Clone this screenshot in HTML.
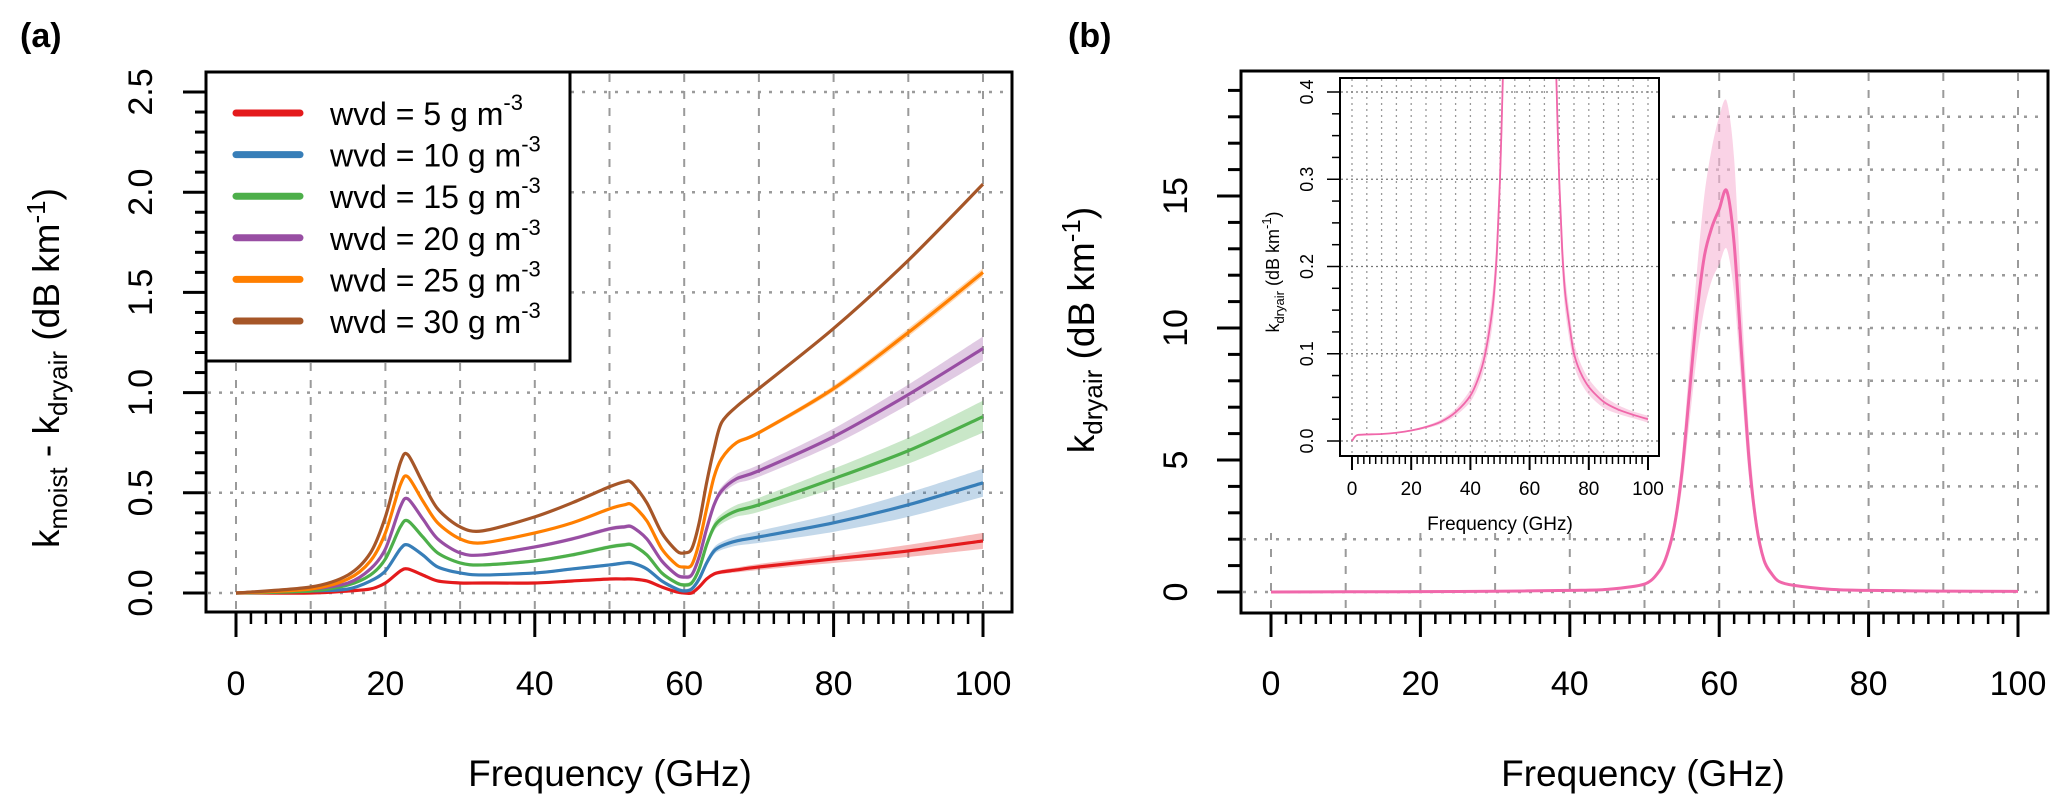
<!DOCTYPE html>
<html><head><meta charset="utf-8"><style>
html,body{margin:0;padding:0;background:#fff;}
svg{display:block;font-family:"Liberation Sans",Arial,sans-serif;}
</style></head><body>
<svg id="fig" width="2067" height="812" viewBox="0 0 2067 812" xmlns="http://www.w3.org/2000/svg">
<rect x="0" y="0" width="2067" height="812" fill="#fff"/>
<g id="pa"></g>
<g id="pb"></g>
</svg>
<script>
// ---------- Panel (a) data ----------
const freqA = [0,10,15,18,20,22,23,25,27,30,33,40,45,50,52,53,55,57,59,60,61,62,63,64,65,67,70,80,90,100];
const wvd5  = [0,0,0.01,0.02,0.05,0.11,0.12,0.09,0.06,0.05,0.05,0.05,0.06,0.07,0.07,0.07,0.06,0.03,0.005,0,0,0.03,0.07,0.095,0.105,0.115,0.13,0.17,0.21,0.26];
const wvd10 = [0,0.01,0.02,0.06,0.11,0.22,0.24,0.19,0.13,0.1,0.09,0.1,0.12,0.14,0.15,0.15,0.12,0.06,0.02,0.01,0.02,0.07,0.15,0.21,0.235,0.26,0.28,0.35,0.44,0.55];
const wvd15 = [0,0.01,0.04,0.09,0.17,0.33,0.36,0.28,0.2,0.15,0.14,0.16,0.19,0.23,0.24,0.24,0.19,0.1,0.05,0.04,0.05,0.12,0.24,0.33,0.37,0.41,0.44,0.57,0.71,0.88];
const wvd20 = [0,0.02,0.05,0.12,0.22,0.43,0.47,0.37,0.27,0.2,0.19,0.23,0.27,0.32,0.33,0.33,0.27,0.16,0.09,0.08,0.09,0.18,0.32,0.44,0.51,0.57,0.61,0.78,0.99,1.22];
const wvd25 = [0,0.02,0.07,0.16,0.3,0.54,0.58,0.46,0.35,0.27,0.25,0.3,0.35,0.42,0.44,0.44,0.36,0.22,0.14,0.13,0.14,0.25,0.42,0.58,0.67,0.75,0.8,1.02,1.3,1.6];
const wvd30 = [0,0.03,0.09,0.2,0.38,0.65,0.69,0.55,0.42,0.33,0.31,0.38,0.45,0.53,0.555,0.55,0.45,0.3,0.21,0.2,0.22,0.35,0.55,0.72,0.85,0.93,1.02,1.32,1.66,2.04];
const bandFreqA = [0,20,50,60,65,70,80,90,100];
const band5  = [0,0.003,0.005,0.005,0.01,0.015,0.02,0.03,0.04];
const band10 = [0,0.005,0.008,0.01,0.02,0.03,0.045,0.06,0.07];
const band15 = [0,0.005,0.01,0.01,0.025,0.035,0.05,0.065,0.08];
const band20 = [0,0.005,0.01,0.01,0.02,0.03,0.04,0.05,0.06];
const band25 = [0,0.003,0.005,0.005,0.01,0.01,0.015,0.02,0.02];
const band30 = [0,0.002,0.003,0.003,0.004,0.004,0.005,0.005,0.006];
const seriesLabels = ["wvd = 5 g m","wvd = 10 g m","wvd = 15 g m","wvd = 20 g m","wvd = 25 g m","wvd = 30 g m"];
const seriesColors = ["#e41a1c","#377eb8","#4daf4a","#984ea3","#ff7f00","#a65628"];
const xTicksA = [0,20,40,60,80,100];
const yTicksA = ["0.0","0.5","1.0","1.5","2.0","2.5"];

// ---------- Panel (b) data ----------
const freqB = [0,10,20,30,40,45,50,52,53,54,55,56,57,58,59,60,61,62,63,64,65,66,67,68,70,75,80,90,100];
const dryB  = [0,0.01,0.012,0.03,0.06,0.1,0.3,0.8,1.4,2.5,4.5,7.5,10.5,12.7,13.8,14.5,15.2,13.2,9,5,2.5,1.2,0.7,0.4,0.25,0.1,0.06,0.035,0.025];
const dryBlo= [0,0.01,0.011,0.027,0.053,0.088,0.27,0.7,1.2,2.2,3.9,6.4,8.9,10.7,11.8,12.4,13,11.3,7.7,4.3,2.2,1.05,0.6,0.35,0.22,0.09,0.053,0.031,0.022];
const dryBhi= [0,0.01,0.013,0.033,0.067,0.112,0.33,0.9,1.6,2.8,5.1,8.6,12.1,15,16.8,18,18.6,16.4,11,6,2.9,1.4,0.8,0.46,0.28,0.11,0.067,0.04,0.028];
const freqI = [0,1,2,5,10,15,20,25,30,35,40,43,45,47,48,49,50,51,51.5,68.5,69,70,71,72,74,75,77,80,85,90,95,100];
const dryI  = [0,0.005,0.007,0.0075,0.008,0.0095,0.012,0.016,0.022,0.033,0.052,0.075,0.1,0.14,0.17,0.22,0.3,0.42,0.5,0.5,0.42,0.3,0.22,0.17,0.12,0.1,0.08,0.062,0.045,0.036,0.03,0.025];
const dryIlo= [0,0.005,0.0065,0.007,0.0075,0.0088,0.011,0.0145,0.0195,0.029,0.045,0.065,0.087,0.122,0.15,0.195,0.27,0.38,0.46,0.46,0.38,0.27,0.195,0.15,0.105,0.087,0.069,0.053,0.038,0.031,0.026,0.021];
const dryIhi= [0,0.005,0.0075,0.008,0.0085,0.0102,0.013,0.0175,0.0245,0.037,0.059,0.085,0.113,0.158,0.19,0.245,0.33,0.46,0.54,0.54,0.46,0.33,0.245,0.19,0.135,0.113,0.091,0.071,0.052,0.041,0.034,0.029];
const xTicksB = [0,20,40,60,80,100];
const yTicksB = [0,5,10,15];
const yTicksI = ["0.0","0.1","0.2","0.3","0.4"];

const NS="http://www.w3.org/2000/svg";
function mk(parent, tag, attrs){const e=document.createElementNS(NS,tag);for(const k in attrs)e.setAttribute(k,attrs[k]);parent.appendChild(e);return e;}
function smooth(pts){
  if(pts.length<2)return "";
  let d="M"+pts[0][0].toFixed(2)+","+pts[0][1].toFixed(2);
  for(let i=0;i<pts.length-1;i++){
    const p0=pts[Math.max(0,i-1)],p1=pts[i],p2=pts[i+1],p3=pts[Math.min(pts.length-1,i+2)];
    const t=0.15;
    const c1=[p1[0]+(p2[0]-p0[0])*t,p1[1]+(p2[1]-p0[1])*t];
    const c2=[p2[0]-(p3[0]-p1[0])*t,p2[1]-(p3[1]-p1[1])*t];
    d+="C"+c1[0].toFixed(2)+","+c1[1].toFixed(2)+" "+c2[0].toFixed(2)+","+c2[1].toFixed(2)+" "+p2[0].toFixed(2)+","+p2[1].toFixed(2);
  }
  return d;
}
function interp(xs,ys,x){for(let i=0;i<xs.length-1;i++){if(x>=xs[i]&&x<=xs[i+1]){const t=(x-xs[i])/(xs[i+1]-xs[i]);return ys[i]+t*(ys[i+1]-ys[i]);}}return ys[ys.length-1];}

// ================= PANEL A =================
(function(){
const g=document.getElementById('pa');
const X=f=>236+f*(983-236)/100;
const Y=v=>593-v*200.4;
const L=206,R=1012,T=72,B=612;
// grid
for(let f=0;f<=100;f+=10){const l=mk(g,'line',{x1:X(f),x2:X(f),y1:T+2,y2:B-2,stroke:'#9a9a9a','stroke-width':2,'stroke-dasharray':'8,9'});

}
for(let i=0;i<yTicksA.length;i++){const v=parseFloat(yTicksA[i]);const l=mk(g,'line',{x1:L+2,x2:R-2,y1:Y(v),y2:Y(v),stroke:'#9a9a9a','stroke-width':2.5,'stroke-dasharray':'3,8'});

}
const all=[wvd5,wvd10,wvd15,wvd20,wvd25,wvd30];
const bands=[band5,band10,band15,band20,band25,band30];
// bands then lines
for(let s=0;s<all.length;s++){
  const up=[],lo=[];
  for(let i=0;i<freqA.length;i++){const h=interp(bandFreqA,bands[s],freqA[i]);up.push([X(freqA[i]),Y(all[s][i]+h)]);lo.push([X(freqA[i]),Y(all[s][i]-h)]);}
  const d=smooth(up)+"L"+smooth(lo.slice().reverse()).slice(1)+"Z";
  const p=mk(g,'path',{d:d,fill:seriesColors[s],'fill-opacity':0.3,stroke:'none'});
  
  
}
for(let s=0;s<all.length;s++){
  const pts=freqA.map((f,i)=>[X(f),Y(all[s][i])]);
  const p=mk(g,'path',{d:smooth(pts),fill:'none',stroke:seriesColors[s],'stroke-width':3.2,'stroke-linejoin':'round'});
  
  
}
// box
const box=mk(g,'rect',{x:L,y:T,width:R-L,height:B-T,fill:'none',stroke:'#000','stroke-width':3});


// x ticks
for(let f=0;f<=100;f+=2){const major=f%20===0;const t=mk(g,'line',{x1:X(f),x2:X(f),y1:B,y2:major?637:624,stroke:'#000','stroke-width':major?3:2.5});

}
xTicksA.forEach(f=>{const t=mk(g,'text',{x:X(f),y:695,'font-size':34,'text-anchor':'middle',fill:'#000'});t.textContent=f;

});
// y ticks
for(let k=0;k<=25;k++){const v=k/10;const major=k%5===0;const t=mk(g,'line',{x1:major?183:195,x2:L,y1:Y(v),y2:Y(v),stroke:'#000','stroke-width':3});

}
yTicksA.forEach(lbl=>{const v=parseFloat(lbl);const t=mk(g,'text',{x:0,y:0,'font-size':34,'text-anchor':'middle',fill:'#000',transform:`translate(152,${Y(v)}) rotate(-90)`});t.textContent=lbl;

});
// axis titles
const xt=mk(g,'text',{x:610,y:786,'font-size':37,'text-anchor':'middle',fill:'#000'});xt.textContent='Frequency (GHz)';


const yt=mk(g,'text',{x:0,y:0,'font-size':37,'text-anchor':'middle',fill:'#000',transform:'translate(59,368) rotate(-90)'});
yt.innerHTML='k<tspan font-size="26" dy="8">moist</tspan><tspan dy="-8"> - k</tspan><tspan font-size="26" dy="8">dryair</tspan><tspan dy="-8"> (dB  km</tspan><tspan font-size="26" dy="-14">-1</tspan><tspan dy="14">)</tspan>';


const pl=mk(g,'text',{x:20,y:47,'font-size':34,'font-weight':'bold',fill:'#000'});pl.textContent='(a)';


// legend
const lg=mk(g,'g',{});


mk(lg,'rect',{x:L,y:T,width:364,height:289,fill:'#fff',stroke:'#000','stroke-width':3});
for(let s=0;s<seriesLabels.length;s++){
  const y=113+s*41.6;
  const e=mk(lg,'g',{});
  
  
  mk(e,'line',{x1:236,x2:300,y1:y,y2:y,stroke:seriesColors[s],'stroke-width':7,'stroke-linecap':'round'});
  const t=mk(e,'text',{x:330,y:y+12,'font-size':32,fill:'#000'});
  t.innerHTML=seriesLabels[s]+'<tspan font-size="22" dy="-15">-3</tspan>';
}
})();

// ================= PANEL B =================
(function(){
const g=document.getElementById('pb');
const X=f=>1271+f*(2018-1271)/100;
const Y=v=>592-v*26.4;
const L=1241,R=2048,T=71,B=613;
for(let f=0;f<=100;f+=10){const l=mk(g,'line',{x1:X(f),x2:X(f),y1:T+2,y2:B-2,stroke:'#9a9a9a','stroke-width':2,'stroke-dasharray':'8,9'});

}
for(let v=0;v<=18;v+=2){const l=mk(g,'line',{x1:L+2,x2:R-2,y1:Y(v),y2:Y(v),stroke:'#9a9a9a','stroke-width':2.5,'stroke-dasharray':'3,8'});

}
// band + line
const up=freqB.map((f,i)=>[X(f),Y(dryBhi[i])]),lo=freqB.map((f,i)=>[X(f),Y(dryBlo[i])]);
const band=mk(g,'path',{d:smooth(up)+"L"+smooth(lo.slice().reverse()).slice(1)+"Z",fill:'#f7b6d6','fill-opacity':0.6,stroke:'none'});


const ln=mk(g,'path',{d:smooth(freqB.map((f,i)=>[X(f),Y(dryB[i])])),fill:'none',stroke:'#f067aa','stroke-width':3,'stroke-linejoin':'round'});


// inset background
const ib=mk(g,'rect',{x:L+2,y:T+2,width:1665-L-2,height:533-T-2,fill:'#fff'});


const box=mk(g,'rect',{x:L,y:T,width:R-L,height:B-T,fill:'none',stroke:'#000','stroke-width':3});


for(let f=0;f<=100;f+=2){const major=f%20===0;const t=mk(g,'line',{x1:X(f),x2:X(f),y1:B,y2:major?637:624,stroke:'#000','stroke-width':major?3:2.5});

}
xTicksB.forEach(f=>{const t=mk(g,'text',{x:X(f),y:695,'font-size':34,'text-anchor':'middle',fill:'#000'});t.textContent=f;

});
for(let v=0;v<=19;v++){const major=v%5===0;const t=mk(g,'line',{x1:major?1217:1228,x2:L,y1:Y(v),y2:Y(v),stroke:'#000','stroke-width':3});

}
yTicksB.forEach(v=>{const t=mk(g,'text',{x:0,y:0,'font-size':34,'text-anchor':'middle',fill:'#000',transform:`translate(1187,${Y(v)}) rotate(-90)`});t.textContent=v;

});
const xt=mk(g,'text',{x:1643,y:786,'font-size':37,'text-anchor':'middle',fill:'#000'});xt.textContent='Frequency (GHz)';


const yt=mk(g,'text',{x:0,y:0,'font-size':37,'text-anchor':'middle',fill:'#000',transform:'translate(1094,330) rotate(-90)'});
yt.innerHTML='k<tspan font-size="26" dy="8">dryair</tspan><tspan dy="-8"> (dB  km</tspan><tspan font-size="26" dy="-14">-1</tspan><tspan dy="14">)</tspan>';


const pl=mk(g,'text',{x:1068,y:47,'font-size':34,'font-weight':'bold',fill:'#000'});pl.textContent='(b)';



// ---- inset ----
const ig=mk(g,'g',{});


const XI=f=>1352+f*(1648-1352)/100;
const YI=v=>441-v*(441-92)/0.4;
const IL=1340,IR=1659,IT=78,IB=456;
const clip=mk(ig,'clipPath',{id:'iclip'});mk(clip,'rect',{x:IL,y:IT,width:IR-IL,height:IB-IT});
for(let f=0;f<=100;f+=5){const l=mk(ig,'line',{x1:XI(f),x2:XI(f),y1:IT+1,y2:IB-1,stroke:'#999','stroke-width':1.3,'stroke-dasharray':'2,4'});

}
yTicksI.forEach(lbl=>{const v=parseFloat(lbl);const l=mk(ig,'line',{x1:IL+1,x2:IR-1,y1:YI(v),y2:YI(v),stroke:'#777','stroke-width':1.3,'stroke-dasharray':'2,3'});

});
const cg=mk(ig,'g',{'clip-path':'url(#iclip)'});
const iu=freqI.map((f,i)=>[XI(f),YI(dryIhi[i])]),il=freqI.map((f,i)=>[XI(f),YI(dryIlo[i])]);
const ibd=mk(cg,'path',{d:smooth(iu)+"L"+smooth(il.slice().reverse()).slice(1)+"Z",fill:'#f7b6d6','fill-opacity':0.6});


// split line at gap
const split=freqI.findIndex((f,i)=>i>0&&f-freqI[i-1]>5);
[[0,split],[split,freqI.length]].forEach(r=>{
  const pts=[];for(let i=r[0];i<r[1];i++)pts.push([XI(freqI[i]),YI(dryI[i])]);
  const p=mk(cg,'path',{d:smooth(pts),fill:'none',stroke:'#f067aa','stroke-width':1.8});
  
  
});
const ibx=mk(ig,'rect',{x:IL,y:IT,width:IR-IL,height:IB-IT,fill:'none',stroke:'#000','stroke-width':2});


for(let f=0;f<=100;f+=2){const major=f%20===0;const t=mk(ig,'line',{x1:XI(f),x2:XI(f),y1:IB,y2:major?470:464,stroke:'#000','stroke-width':major?2:1.5});

}
[0,20,40,60,80,100].forEach(f=>{const t=mk(ig,'text',{x:XI(f),y:495,'font-size':19,'text-anchor':'middle',fill:'#000'});t.textContent=f;

});
for(let k=0;k<=16;k++){const v=k*0.025;const major=k%4===0;const t=mk(ig,'line',{x1:major?1327:1332,x2:IL,y1:YI(v),y2:YI(v),stroke:'#000','stroke-width':1.5});

}
yTicksI.forEach(lbl=>{const v=parseFloat(lbl);const t=mk(ig,'text',{x:0,y:0,'font-size':18,'text-anchor':'middle',fill:'#000',transform:`translate(1313,${YI(v)}) rotate(-90)`});t.textContent=lbl;

});
const ixt=mk(ig,'text',{x:1500,y:530,'font-size':19,'text-anchor':'middle',fill:'#000'});ixt.textContent='Frequency (GHz)';


const iyt=mk(ig,'text',{x:0,y:0,'font-size':18,'text-anchor':'middle',fill:'#000',transform:'translate(1279,272) rotate(-90)'});
iyt.innerHTML='k<tspan font-size="13" dy="5">dryair</tspan><tspan dy="-5"> (dB km</tspan><tspan font-size="13" dy="-8">-1</tspan><tspan dy="8">)</tspan>';


})();
</script>
</body></html>
